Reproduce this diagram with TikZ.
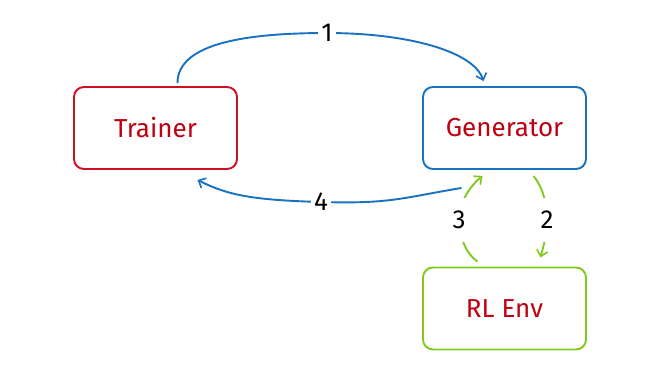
\documentclass[tikz,border=0pt]{standalone}
\usepackage{fontspec}
\setmainfont{Fira Sans}
\usetikzlibrary{arrows.meta}
\definecolor{bred}{HTML}{C9121E}
\definecolor{tred}{HTML}{C00010}
\definecolor{bblue}{HTML}{1971C2}
\definecolor{bgreen}{HTML}{82C91E}
\tikzset{
  box/.style={draw=#1, line width=1.9pt, rounded corners=10pt, minimum width=163pt, minimum height=82pt, inner sep=0pt, font=\fontsize{26}{30}\selectfont, text=tred},
  conn/.style={line width=1.9pt, -{Straight Barb[length=6pt,width=11pt,line width=1.6pt]}},
  gconn/.style={conn, bgreen},
  lbl/.style={fill=white, inner sep=3pt, text=black, font=\fontsize{26}{30}\selectfont},
  glbl/.style={lbl, inner ysep=13pt}
}
\begin{document}
\begin{tikzpicture}[x=1pt,y=-1pt]
\useasboundingbox[fill=white] (0,0) rectangle (650,384);
\node[box=bred] (tr) at (155.5,128) {Trainer};
\node[box=bblue] (gen) at (504.5,128) {Generator};
\node[box=bgreen] (env) at (504.5,308.5) {RL Env};
% arrow 1
\draw[conn, bblue] ([xshift=22pt,yshift=3pt]tr.north) .. controls +(0,-40) and +(-80,0) .. (327,33) node[lbl] (l1) {1}
  .. controls +(80,0) and +(-10,-30) .. ([xshift=-21pt,yshift=5pt]gen.north);
% arrow 4
\draw[conn, bblue] ([xshift=-43pt,yshift=-18pt]gen.south) .. controls +(-60,10) and +(70,2) .. (321,202) node[lbl] (l4) {4}
  .. controls +(-70,-2) and +(30,15) .. ([xshift=42pt,yshift=-10pt]tr.south);
% arrow 2
\draw[gconn] ([xshift=29pt,yshift=-6pt]gen.south) .. controls +(10,12) and +(0,-15) .. (547,220) node[glbl] (l2) {2}
  .. controls +(0,15) and +(3,-12) .. ([xshift=36pt,yshift=9pt]env.north);
% arrow 3
\draw[gconn] ([xshift=-27pt,yshift=5pt]env.north) .. controls +(-12,-8) and +(0,15) .. (459,220) node[glbl] (l3) {3}
  .. controls +(0,-20) and +(-10,8) .. ([xshift=-22pt,yshift=-6pt]gen.south);
\end{tikzpicture}
\end{document}
